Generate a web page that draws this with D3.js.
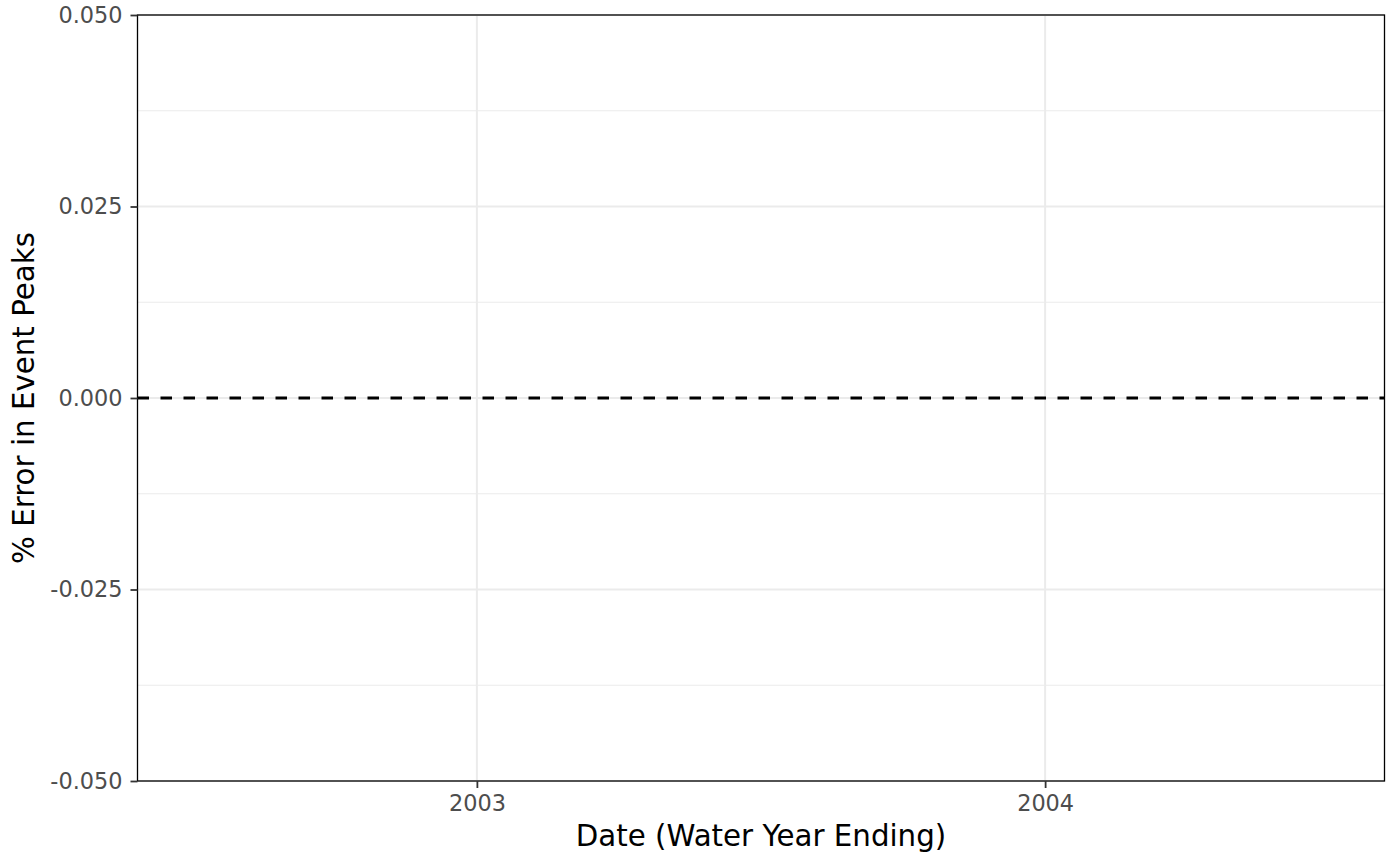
<!DOCTYPE html>
<html>
<head>
<meta charset="utf-8">
<script src="https://cdn.jsdelivr.net/npm/d3@7"></script>
<style>
  body { margin: 0; background: #fff; }
  svg text { font-family: "DejaVu Sans", sans-serif; }
</style>
</head>
<body>
<svg id="chart" width="1400" height="866"></svg>
<script>
// data: no points, only the zero reference line
const xDomain = [new Date(2002, 4, 28), new Date(2004, 7, 6)];
const xTicks = [new Date(2003, 0, 1), new Date(2004, 0, 1)];
const yDomain = [-0.05, 0.05];
const yTicks = [-0.05, -0.025, 0, 0.025, 0.05];
const yMinor = [-0.0375, -0.0125, 0.0125, 0.0375];
const refLine = [0];

const svg = d3.select("#chart");
const m = { left: 137.5, right: 1384.5, top: 15, bottom: 781 };

const x = d3.scaleTime().domain(xDomain).range([m.left, m.right]);
const y = d3.scaleLinear().domain(yDomain).range([m.bottom, m.top]);

// grid
svg.append("g").selectAll("line").data(yMinor).enter().append("line")
  .attr("x1", m.left).attr("x2", m.right)
  .attr("y1", d => y(d)).attr("y2", d => y(d))
  .attr("stroke", "#ebebeb").attr("stroke-width", 1);
svg.append("g").selectAll("line").data(yTicks).enter().append("line")
  .attr("x1", m.left).attr("x2", m.right)
  .attr("y1", d => y(d)).attr("y2", d => y(d))
  .attr("stroke", "#ebebeb").attr("stroke-width", 2);
svg.append("g").selectAll("line").data(xTicks).enter().append("line")
  .attr("x1", d => x(d)).attr("x2", d => x(d))
  .attr("y1", m.top).attr("y2", m.bottom)
  .attr("stroke", "#ebebeb").attr("stroke-width", 2);

// zero line
svg.append("g").selectAll("line").data(refLine).enter().append("line")
  .attr("x1", m.left).attr("x2", m.right)
  .attr("y1", d => y(d)).attr("y2", d => y(d))
  .attr("stroke", "#000").attr("stroke-width", 2.8)
  .attr("stroke-dasharray", "11.5,11.5");

// panel border
svg.append("rect")
  .attr("x", m.left).attr("y", m.top)
  .attr("width", m.right - m.left).attr("height", m.bottom - m.top)
  .attr("fill", "none").attr("stroke", "#000").attr("stroke-width", 1.3);

// axes
const fmt = d => d3.format(".3f")(d).replace("\u2212", "-");
const yAxis = svg.append("g").attr("transform", `translate(${m.left},0)`)
  .call(d3.axisLeft(y).tickValues(yTicks).tickFormat(fmt).tickSize(7).tickPadding(8));
const xAxis = svg.append("g").attr("transform", `translate(0,${m.bottom})`)
  .call(d3.axisBottom(x).tickValues(xTicks).tickFormat(d3.timeFormat("%Y")).tickSize(7).tickPadding(7));
[xAxis, yAxis].forEach(a => {
  a.attr("font-family", "DejaVu Sans").attr("font-size", 22.4);
  a.select(".domain").remove();
  a.selectAll(".tick line").attr("stroke", "#333").attr("stroke-width", 1.8);
  a.selectAll(".tick text").attr("fill", "#4d4d4d");
});

// titles
svg.append("text").attr("x", (m.left + m.right) / 2).attr("y", 846)
  .attr("text-anchor", "middle").style("font-size", "29.3px").attr("fill", "#000")
  .text("Date (Water Year Ending)");
svg.append("text")
  .attr("transform", `translate(34,${(m.top + m.bottom) / 2}) rotate(-90)`)
  .attr("text-anchor", "middle").style("font-size", "29.3px").attr("fill", "#000")
  .text("% Error in Event Peaks");
</script>
</body>
</html>
